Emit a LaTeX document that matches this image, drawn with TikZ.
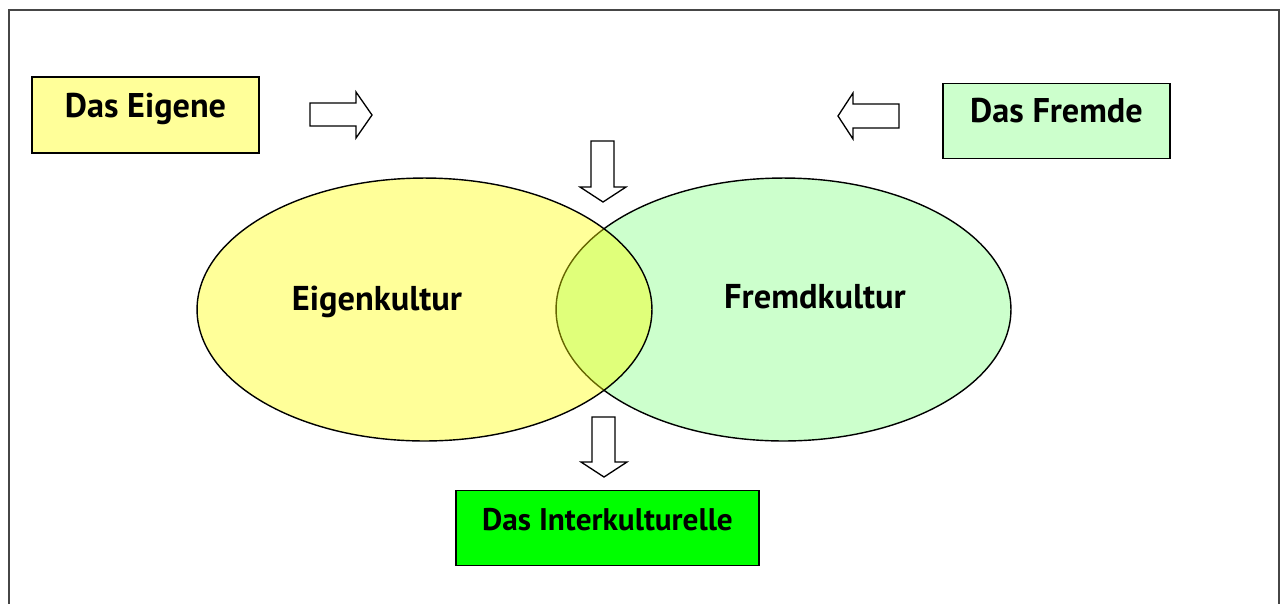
\documentclass[tikz,border=0pt]{standalone}
\usepackage{fontspec}
\setmainfont{PT Sans}
\usetikzlibrary{shapes.geometric}
\definecolor{paleyellow}{RGB}{255,255,0}
\definecolor{palegreen}{RGB}{204,255,204}
\definecolor{brightgreen}{RGB}{0,255,0}
\definecolor{framegray}{RGB}{70,70,70}
\begin{document}
\begin{tikzpicture}[x=0.02cm,y=-0.02cm,
  box/.style={draw, line width=0.7pt, rectangle, inner sep=0pt, font=\fontsize{19.5}{21}\selectfont\bfseries},
  culture/.style={ellipse, draw, line width=0.8pt, inner sep=0pt, minimum width=9.1cm, minimum height=5.26cm},
  culturetext/.style={anchor=base, inner sep=0pt, font=\fontsize{19.6}{21}\selectfont\bfseries},
  blockarrow/.style={draw, line width=0.75pt, fill=white, line join=miter}]
\useasboundingbox (0,0) rectangle (1280,603);

% Outer frame, open at the bottom edge
\draw[framegray, line width=0.8pt] (9,640) -- (9,10) -- (1279,10) -- (1279,640);

% Top boxes
\node[box, fill=paleyellow, fill opacity=0.4, text opacity=1, minimum width=4.54cm,
      text height=0.8cm, text depth=0.72cm] (eigene) at (145.5,115) {Das Eigene};
\node[box, fill=palegreen, minimum width=4.54cm,
      text height=0.78cm, text depth=0.72cm] (fremde) at (1056.5,121) {Das Fremde};

% Arrows pointing to the centre
\draw[blockarrow] (310,103) -- (356,103) -- (356,92) -- (372,115) -- (356,138) -- (356,126) -- (310,126) -- cycle;
\draw[blockarrow] (899,104) -- (853,104) -- (853,93) -- (838,116) -- (853,139) -- (853,128) -- (899,128) -- cycle;
\draw[blockarrow] (591,141) -- (614,141) -- (614,187) -- (626,187) -- (603,202) -- (580,187) -- (591,187) -- cycle;

% The two cultures
\node[culture, fill=palegreen] (fremd) at (783.5,309.5) {};
\node[culture, fill=paleyellow, fill opacity=0.4] (eigen) at (424.5,309.5) {};
\node[culturetext] (eigentxt) at (377,310) {Eigenkultur};
\node[culturetext] (fremdtxt) at (815,308) {Fremdkultur};

% Arrow down to the result
\draw[blockarrow] (592,417) -- (615,417) -- (615,462) -- (627,462) -- (604,477) -- (581,462) -- (592,462) -- cycle;

% Result box
\node[box, fill=brightgreen, minimum width=6.06cm, font=\fontsize{17.8}{19}\selectfont\bfseries,
      text height=0.8cm, text depth=0.7cm] (inter) at (607.5,528) {Das Interkulturelle};
\end{tikzpicture}
\end{document}
